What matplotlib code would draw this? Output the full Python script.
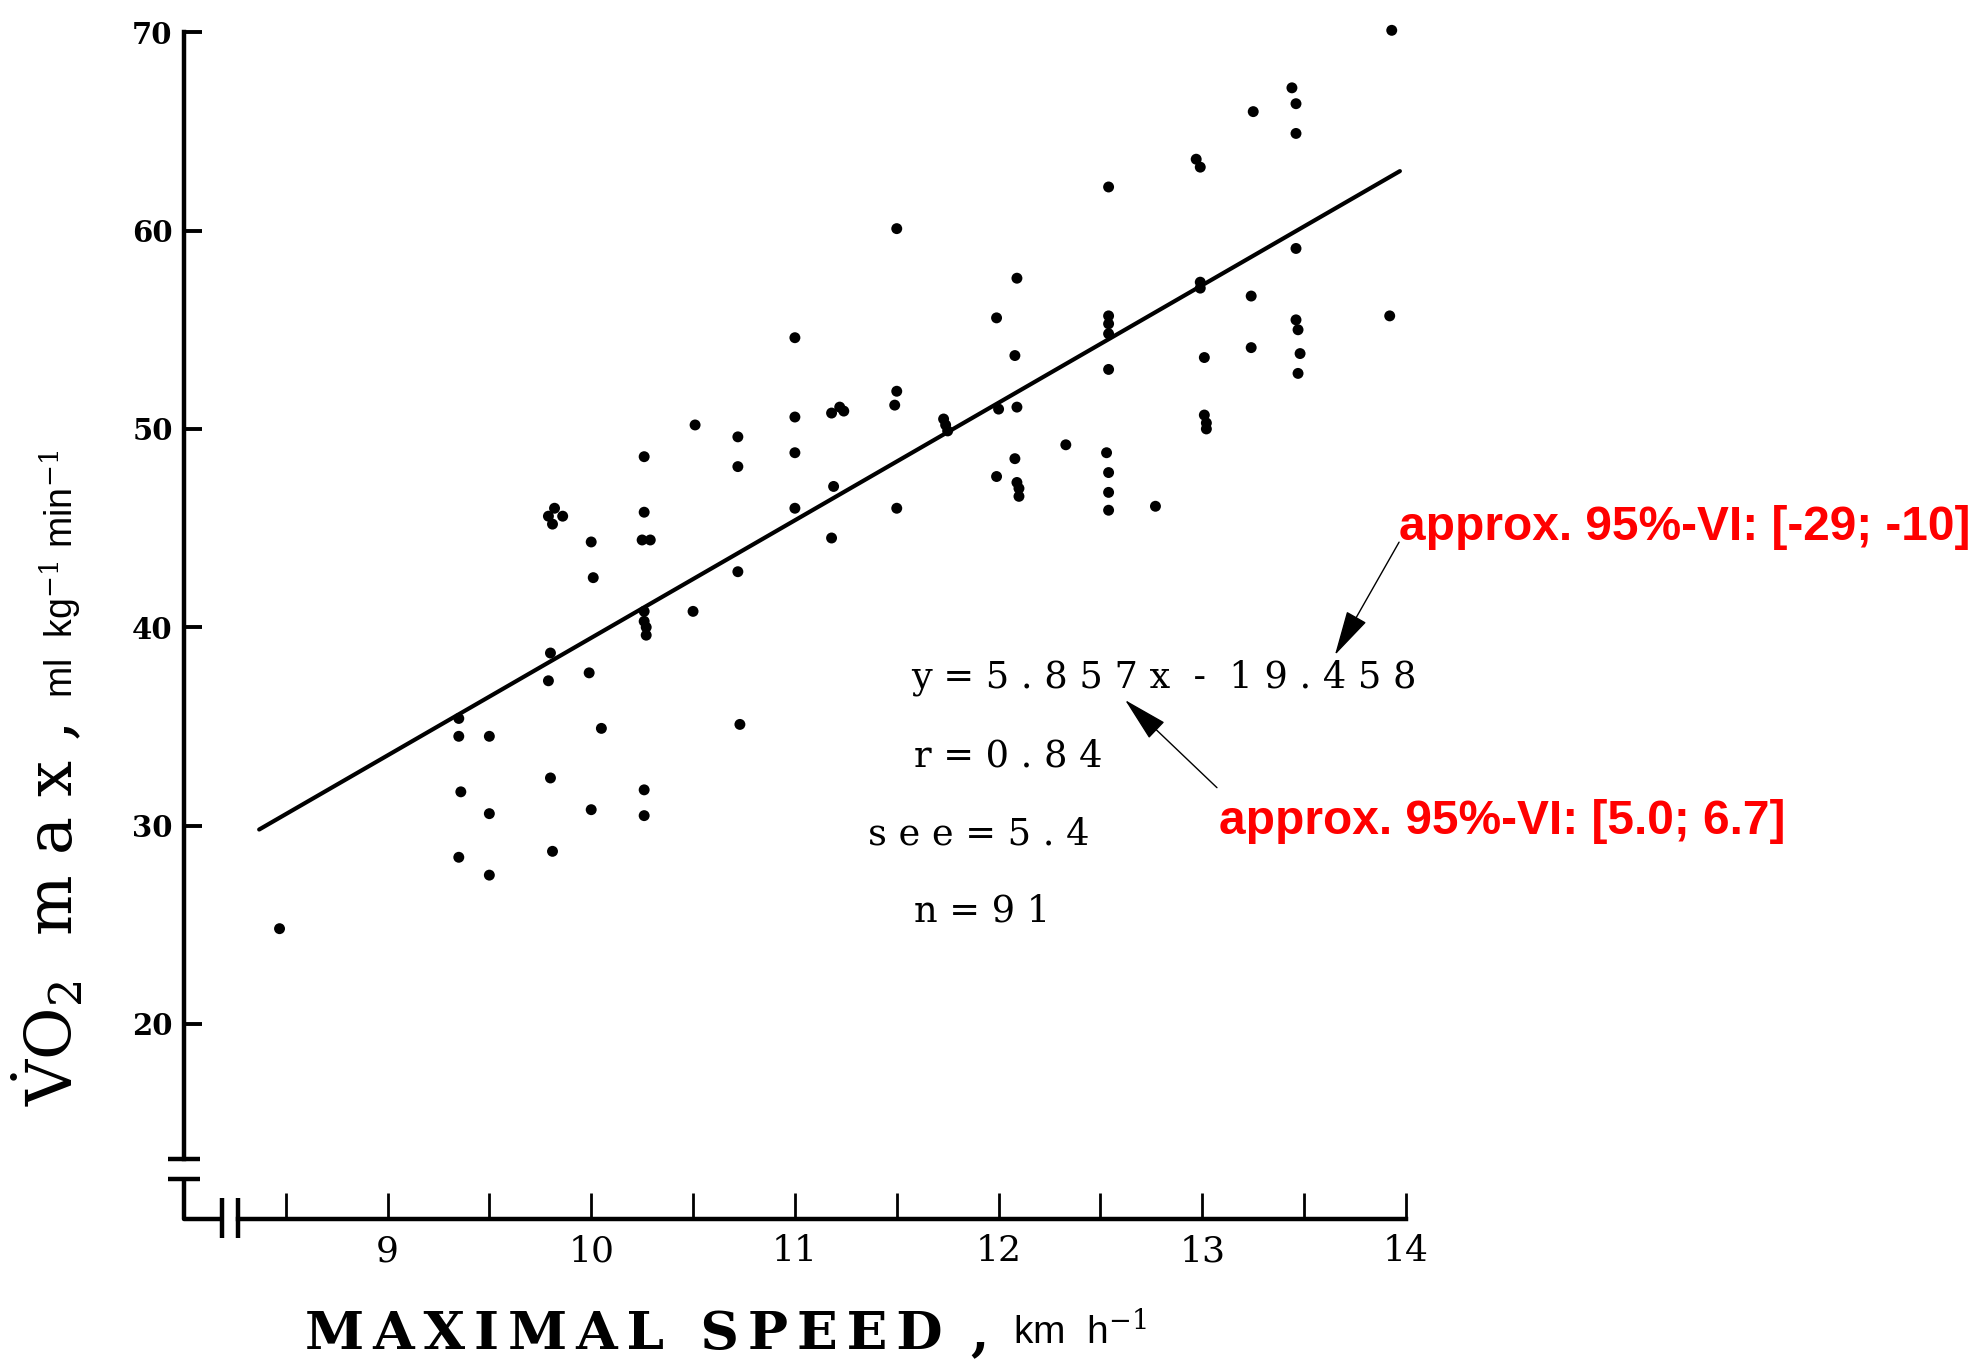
#!/usr/bin/env python3
# -*- coding: utf-8 -*-
"""
VO2max vs maximal speed - scatter with regression line
"""

import matplotlib
matplotlib.use("Agg")
import matplotlib.pyplot as plt

# --- data ---
speed = [
    8.47,
    9.35, 9.35, 9.36, 9.35,
    9.50, 9.50, 9.50,
    9.82, 9.79, 9.86, 9.81, 9.80, 9.79, 9.80, 9.81,
    10.00, 10.01, 9.99, 10.00,
    10.05,
    10.26, 10.26, 10.25, 10.29, 10.26, 10.26, 10.27, 10.27, 10.26, 10.26,
    10.51, 10.50,
    10.72, 10.72, 10.72, 10.73,
    11.00, 11.00, 11.00, 11.00,
    11.18, 11.22, 11.24, 11.19, 11.18,
    11.50, 11.50, 11.49, 11.50,
    11.73, 11.74, 11.75,
    11.99, 12.00, 11.99,
    12.09, 12.08, 12.09, 12.08, 12.09, 12.10, 12.10,
    12.33,
    12.54, 12.54, 12.54, 12.54, 12.54, 12.53, 12.54, 12.54, 12.54,
    12.77,
    12.97, 12.99, 12.99, 12.99, 13.01, 13.01, 13.02, 13.02,
    13.25, 13.24, 13.24,
    13.44, 13.46, 13.46, 13.46, 13.46, 13.47, 13.48, 13.47,
    13.93, 13.92,
]
vo2max = [
    24.8,
    35.4, 34.5, 31.7, 28.4,
    34.5, 30.6, 27.5,
    46.0, 45.6, 45.6, 45.2, 38.7, 37.3, 32.4, 28.7,
    44.3, 42.5, 37.7, 30.8,
    34.9,
    48.6, 45.8, 44.4, 44.4, 40.8, 40.3, 40.0, 39.6, 31.8, 30.5,
    50.2, 40.8,
    49.6, 48.1, 42.8, 35.1,
    54.6, 50.6, 48.8, 46.0,
    50.8, 51.1, 50.9, 47.1, 44.5,
    60.1, 51.9, 51.2, 46.0,
    50.5, 50.2, 49.9,
    55.6, 51.0, 47.6,
    57.6, 53.7, 51.1, 48.5, 47.3, 47.0, 46.6,
    49.2,
    62.2, 55.7, 55.3, 54.8, 53.0, 48.8, 47.8, 46.8, 45.9,
    46.1,
    63.6, 63.2, 57.4, 57.1, 53.6, 50.7, 50.3, 50.0,
    66.0, 56.7, 54.1,
    67.2, 66.4, 64.9, 59.1, 55.5, 55.0, 53.8, 52.8,
    70.1, 55.7,
]

# regression line as drawn in the figure (end points)
line_x = [8.37, 13.97]
line_y = [29.8, 63.0]

x_major = [9, 10, 11, 12, 13, 14]
x_minor = [8.5, 9.5, 10.5, 11.5, 12.5, 13.5]
y_ticks = [20, 30, 40, 50, 60, 70]

stats_lines = ["y = 5 . 8 5 7 x  -  1 9 . 4 5 8",
               "r = 0 . 8 4",
               "s e e = 5 . 4",
               "n = 9 1"]
ci_slope = "approx. 95%-VI: [5.0; 6.7]"
ci_intercept = "approx. 95%-VI: [-29; -10]"
x_title = "MAXIMAL SPEED"

plt.rcParams['mathtext.fontset'] = 'dejavuserif'

W, H = 1971, 1367
fig = plt.figure(figsize=(W / 100, H / 100), dpi=100)
ax = fig.add_axes([183.8 / W, 1 - 1219 / H, 1222.2 / W, 1186.7 / H])

XMIN, XMAX = 8.0, 14.0
YMIN, YMAX = 10.16, 70.0
ax.set_xlim(XMIN, XMAX)
ax.set_ylim(YMIN, YMAX)

# points and line
ax.scatter(speed, vo2max, s=62, color='black', edgecolors='none', zorder=3, clip_on=False)
ax.plot(line_x, line_y, color='black', lw=3.0, solid_capstyle='round', zorder=2)

# axes with breaks
lw_ax = 3.2
ax.spines['top'].set_visible(False)
ax.spines['right'].set_visible(False)
ax.spines['left'].set_linewidth(lw_ax)
ax.spines['bottom'].set_linewidth(lw_ax)
ax.spines['left'].set_bounds(13.2, YMAX)
ax.spines['bottom'].set_bounds(8.266, XMAX)

kw = dict(color='black', lw=lw_ax, clip_on=False, solid_capstyle='butt')
ax.plot([XMIN, XMIN, 8.186], [12.2, YMIN, YMIN], **kw)
for yb in (13.2, 12.2):
    ax.plot([7.92, 8.08], [yb, yb], **kw)
for xb in (8.186, 8.266):
    ax.plot([xb, xb], [9.2, 11.2], **kw)

ax.set_xticks(x_major)
ax.set_xticks(x_minor, minor=True)
ax.set_yticks(y_ticks)
ax.tick_params(axis='x', which='both', direction='in', length=19, width=2.0, pad=11)
ax.tick_params(axis='y', which='major', direction='in', length=13, width=2.8, pad=8)
for lab in ax.get_xticklabels():
    lab.set_fontfamily('DejaVu Serif')
    lab.set_fontsize(26)
for lab in ax.get_yticklabels():
    lab.set_fontfamily('DejaVu Serif')
    lab.set_fontweight('bold')
    lab.set_fontsize(21)

# axis titles (letter-spaced like the typeset original)
spaced = '\u2006'.join(x_title)
fig.text(305 / W, 1 - 1349 / H, spaced, fontfamily='DejaVu Serif', fontweight='bold',
         fontsize=38.5, ha='left', va='baseline')
fig.text(970 / W, 1 - 1349 / H, ',', fontfamily='DejaVu Serif', fontweight='bold',
         fontsize=38, ha='left', va='baseline')
fig.text(1013 / W, 1 - 1343 / H, r'km  h$^{-1}$', fontfamily='Liberation Sans',
         fontsize=28, ha='left', va='baseline')

fig.text(73 / W, 1 - 1106 / H, r'$\dot{\mathrm{V}}\mathrm{O}_{2}$  m a x ,', fontfamily='DejaVu Serif',
         fontsize=46, rotation=90, rotation_mode='anchor', ha='left', va='baseline')
fig.text(73 / W, 1 - 698 / H, r'ml  kg$^{-1}$ min$^{-1}$', fontfamily='Liberation Sans',
         fontsize=27, rotation=90, rotation_mode='anchor', ha='left', va='baseline')

# statistics block
stat_pos = [(11.573, 37.47), (11.585, 33.49), (11.357, 29.57), (11.585, 25.65)]
for (sx, sy), txt in zip(stat_pos, stats_lines):
    ax.text(sx, sy, txt, fontfamily='DejaVu Serif', fontsize=26.5, ha='left', va='center')

# red annotations with arrows
red_kw = dict(fontfamily='Liberation Sans', fontweight='bold', fontsize=34.5, color='#ff0000',
              ha='left', va='center', clip_on=False)
arrow = dict(arrowstyle='-|>,head_length=0.8,head_width=0.2', color='black', lw=1.0,
             mutation_scale=36, shrinkA=0, shrinkB=0)
ax.annotate('', xy=(13.651, 38.60), xytext=(13.966, 44.29), arrowprops=arrow, annotation_clip=False)
ax.annotate('', xy=(12.621, 36.33), xytext=(13.072, 31.91), arrowprops=arrow, annotation_clip=False)
ax.text(13.966, 45.05, ci_intercept, **red_kw)
ax.text(13.084, 30.2, ci_slope, **red_kw)

fig.savefig('out.png', dpi=100, facecolor='white')
print("saved out.png")
